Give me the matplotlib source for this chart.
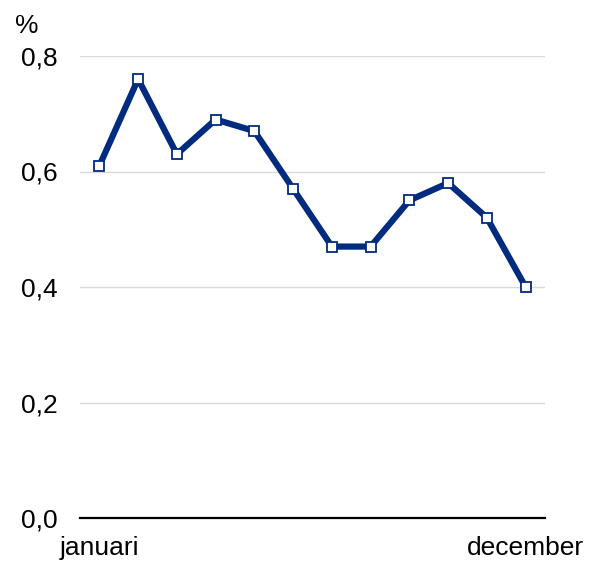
import matplotlib.pyplot as plt

months = ["januari", "februari", "maart", "april", "mei", "juni", "juli",
          "augustus", "september", "oktober", "november", "december"]
values = [0.61, 0.76, 0.63, 0.69, 0.67, 0.57, 0.47, 0.47, 0.55, 0.58, 0.52, 0.40]
yticks = [0.0, 0.2, 0.4, 0.6, 0.8]
ytick_labels = ["0,0", "0,2", "0,4", "0,6", "0,8"]

plt.rcParams['font.family'] = ['Liberation Sans', 'DejaVu Sans']

fig = plt.figure(figsize=(5.99, 5.65), dpi=100)
ax = fig.add_axes([80 / 599, 47 / 565, 465 / 599, 462 / 565])

x = list(range(len(months)))
ax.plot(x, values, color='#002b7f', linewidth=4.5, marker='s', markersize=6.5,
        markerfacecolor='white', markeredgecolor='#002b7f', markeredgewidth=1.3,
        zorder=3)

ax.set_xlim(-0.5, len(months) - 0.5)
ax.set_ylim(0, 0.8)
ax.set_yticks(yticks)
ax.set_yticklabels(ytick_labels)
ax.set_xticks([0, len(months) - 1])
ax.set_xticklabels([months[0], months[-1]])
ax.tick_params(axis='both', length=0, labelsize=19, colors='black')
ax.tick_params(axis='y', pad=16)
ax.tick_params(axis='x', pad=13)

ax.grid(axis='y', color='#d9d9d9', linewidth=1)
ax.set_axisbelow(True)
for side in ['left', 'right', 'top']:
    ax.spines[side].set_visible(False)
ax.spines['bottom'].set_linewidth(1.6)
ax.spines['bottom'].set_color('black')
ax.spines['bottom'].set_zorder(4)

fig.text(15 / 599, 1 - 33 / 565, "%", fontsize=19, ha='left', va='baseline')

fig.savefig("out.png", dpi=100)
